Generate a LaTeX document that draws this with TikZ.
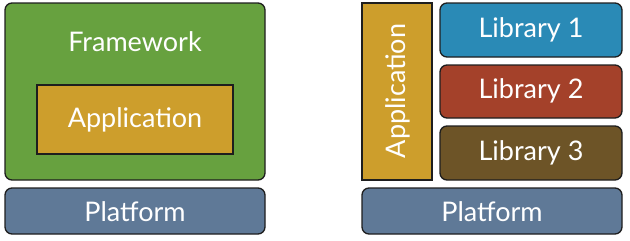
\documentclass[tikz,border=0pt]{standalone}
\usepackage{fontspec}
\setmainfont{Lato}
\definecolor{fwgreen}{HTML}{67A13F}
\definecolor{appgold}{HTML}{CD9E2C}
\definecolor{libblue}{HTML}{2A8AB6}
\definecolor{libred}{HTML}{A4412A}
\definecolor{libbrown}{HTML}{6D5427}
\definecolor{platblue}{HTML}{5F7997}
\definecolor{edge}{HTML}{1E1E1E}
\begin{document}
\begin{tikzpicture}[x=1pt,y=-1pt,
  rbox/.style={draw=edge,line width=1.3pt,rounded corners=7pt},
  sbox/.style={draw=edge,line width=1.3pt},
  lbl/.style={text=white,font=\fontsize{27}{32}\selectfont}]
\useasboundingbox (0,0) rectangle (630,241);
% left
\draw[rbox,fill=fwgreen] (5,3) rectangle (265,180);
\node[lbl] (fw) at (135,42) {Framework};
\draw[sbox,fill=appgold] (37,85) rectangle (233,154);
\node[lbl] (appl) at (135,120) {Application};
\draw[rbox,fill=platblue] (5,188) rectangle (265,234);
\node[lbl] (platl) at (135,212) {Platform};
% right
\draw[sbox,fill=appgold] (362,3) rectangle (432,180);
\node[lbl,rotate=90] (appr) at (398,91) {Application};
\draw[rbox,fill=libblue] (440,3) rectangle (622,57);
\node[lbl] (l1) at (531,30) {Library 1};
\draw[rbox,fill=libred] (440,65) rectangle (622,118);
\node[lbl] (l2) at (531,91) {Library 2};
\draw[rbox,fill=libbrown] (440,126) rectangle (622,180);
\node[lbl] (l3) at (531,153) {Library 3};
\draw[rbox,fill=platblue] (362,188) rectangle (622,234);
\node[lbl] (platr) at (492,212) {Platform};
\end{tikzpicture}
\end{document}
